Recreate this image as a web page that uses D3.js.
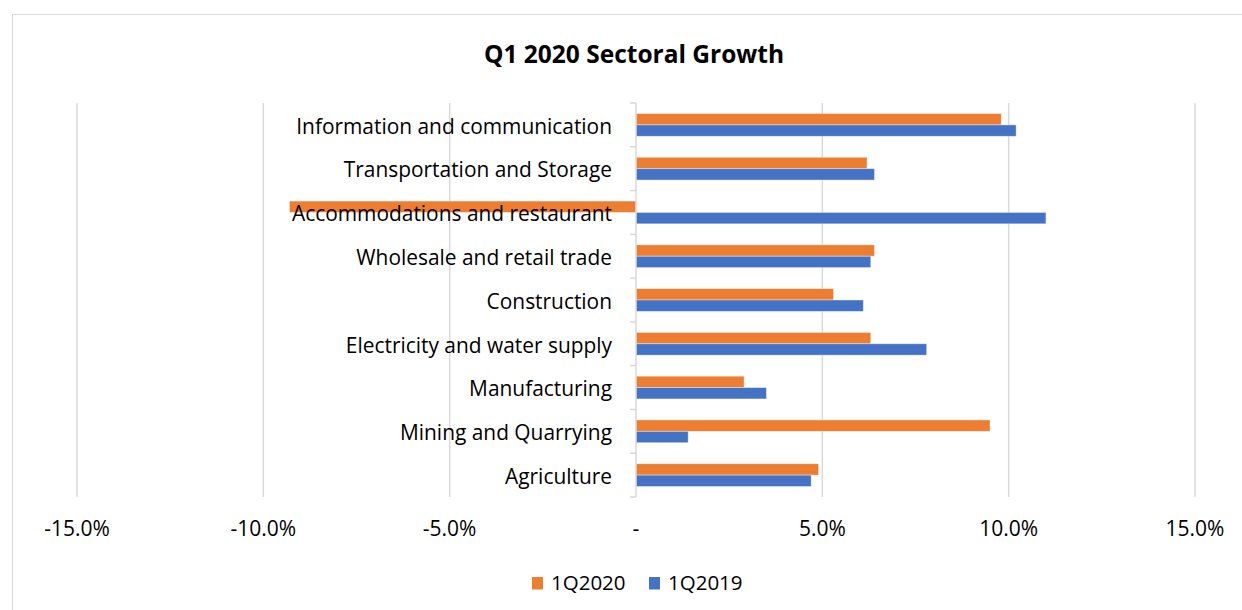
<!DOCTYPE html>
<html>
<head>
<meta charset="utf-8">
<script src="https://cdn.jsdelivr.net/npm/d3@7"></script>
<style>
  html, body { margin: 0; padding: 0; background: #fff; }
  svg { display: block; }
</style>
</head>
<body>
<svg id="chart" width="1242" height="610"></svg>
<script>
// Sector names, top to bottom
const sectors = [
  "Information and communication",
  "Transportation and Storage",
  "Accommodations and restaurant",
  "Wholesale and retail trade",
  "Construction",
  "Electricity and water supply",
  "Manufacturing",
  "Mining and Quarrying",
  "Agriculture"
];
// Year-on-year growth, percent
const growth2020 = [9.8, 6.2, -9.3, 6.4, 5.3, 6.3, 2.9, 9.5, 4.9];
const growth2019 = [10.2, 6.4, 11.0, 6.3, 6.1, 7.8, 3.5, 1.4, 4.7];
const seriesNames = ["1Q2020", "1Q2019"];
const seriesColors = ["#ED7D31", "#4472C4"];
const tickValues = [-15, -10, -5, 0, 5, 10, 15];
const tickLabels = ["-15.0%", "-10.0%", "-5.0%", "-", "5.0%", "10.0%", "15.0%"];

const svg = d3.select("#chart");
const font = "'Open Sans', Lato, sans-serif";

// outer chart frame
svg.append("rect")
  .attr("x", 12.5).attr("y", 14.5)
  .attr("width", 1300).attr("height", 700)
  .attr("fill", "#fff").attr("stroke", "#d9d9d9").attr("stroke-width", 1);

const plot = { left: 77, right: 1195, top: 103, bottom: 497 };

const x = d3.scaleLinear().domain([-15, 15]).range([plot.left, plot.right]);
const y = d3.scaleBand().domain(sectors).range([plot.top, plot.bottom]).paddingInner(0.48).paddingOuter(0.24);
const sub = d3.scaleBand().domain(seriesNames).range([0, y.bandwidth()]);

// vertical gridlines
svg.append("g").selectAll("line")
  .data(tickValues.filter(v => v !== 0))
  .join("line")
  .attr("x1", d => x(d)).attr("x2", d => x(d))
  .attr("y1", plot.top).attr("y2", plot.bottom)
  .attr("stroke", "#d9d9d9").attr("stroke-width", 1.5);

// bars
const rows = sectors.map((s, i) => ({ sector: s, vals: [growth2020[i], growth2019[i]] }));
const g = svg.append("g");
rows.forEach(r => {
  r.vals.forEach((v, k) => {
    g.append("rect")
      .attr("x", Math.min(x(0), x(v)))
      .attr("y", y(r.sector) + sub(seriesNames[k]))
      .attr("width", Math.abs(x(v) - x(0)))
      .attr("height", sub.bandwidth())
      .attr("fill", seriesColors[k])
      .attr("stroke", "#fff").attr("stroke-opacity", 0.5).attr("stroke-width", 0.8);
  });
});

// category axis line at zero with outward ticks
const axisG = svg.append("g");
axisG.append("line")
  .attr("x1", x(0)).attr("x2", x(0))
  .attr("y1", plot.top).attr("y2", plot.bottom)
  .attr("stroke", "#d9d9d9").attr("stroke-width", 1.5);
const step = (plot.bottom - plot.top) / sectors.length;
d3.range(sectors.length + 1).forEach(i => {
  axisG.append("line")
    .attr("x1", x(0) - 6).attr("x2", x(0))
    .attr("y1", plot.top + i * step).attr("y2", plot.top + i * step)
    .attr("stroke", "#d9d9d9").attr("stroke-width", 1.5);
});

// category labels
svg.append("g").selectAll("text")
  .data(sectors)
  .join("text")
  .attr("x", 612)
  .attr("y", d => y(d) + y.bandwidth() / 2 + 1.5)
  .attr("dy", "0.35em")
  .attr("text-anchor", "end")
  .attr("font-family", font).attr("font-size", 20.9).attr("fill", "#000")
  .text(d => d);

// value axis labels
svg.append("g").selectAll("text")
  .data(tickValues)
  .join("text")
  .attr("x", d => x(d))
  .attr("y", 536)
  .attr("text-anchor", "middle")
  .attr("font-family", font).attr("font-size", 21).attr("fill", "#000")
  .text((d, i) => tickLabels[i]);

// title
svg.append("text")
  .attr("x", 634).attr("y", 63)
  .attr("text-anchor", "middle")
  .attr("font-family", font).attr("font-weight", "bold").attr("font-size", 24.5)
  .attr("fill", "#000")
  .text("Q1 2020 Sectoral Growth");

// legend
const legendX = [532, 649];
seriesNames.forEach((n, k) => {
  svg.append("rect")
    .attr("x", legendX[k]).attr("y", 577)
    .attr("width", 11).attr("height", 12.5)
    .attr("fill", seriesColors[k]);
  svg.append("text")
    .attr("x", legendX[k] + 19).attr("y", 589.5)
    .attr("font-family", font).attr("font-size", 20.5).attr("fill", "#000")
    .text(n);
});
</script>
</body>
</html>
